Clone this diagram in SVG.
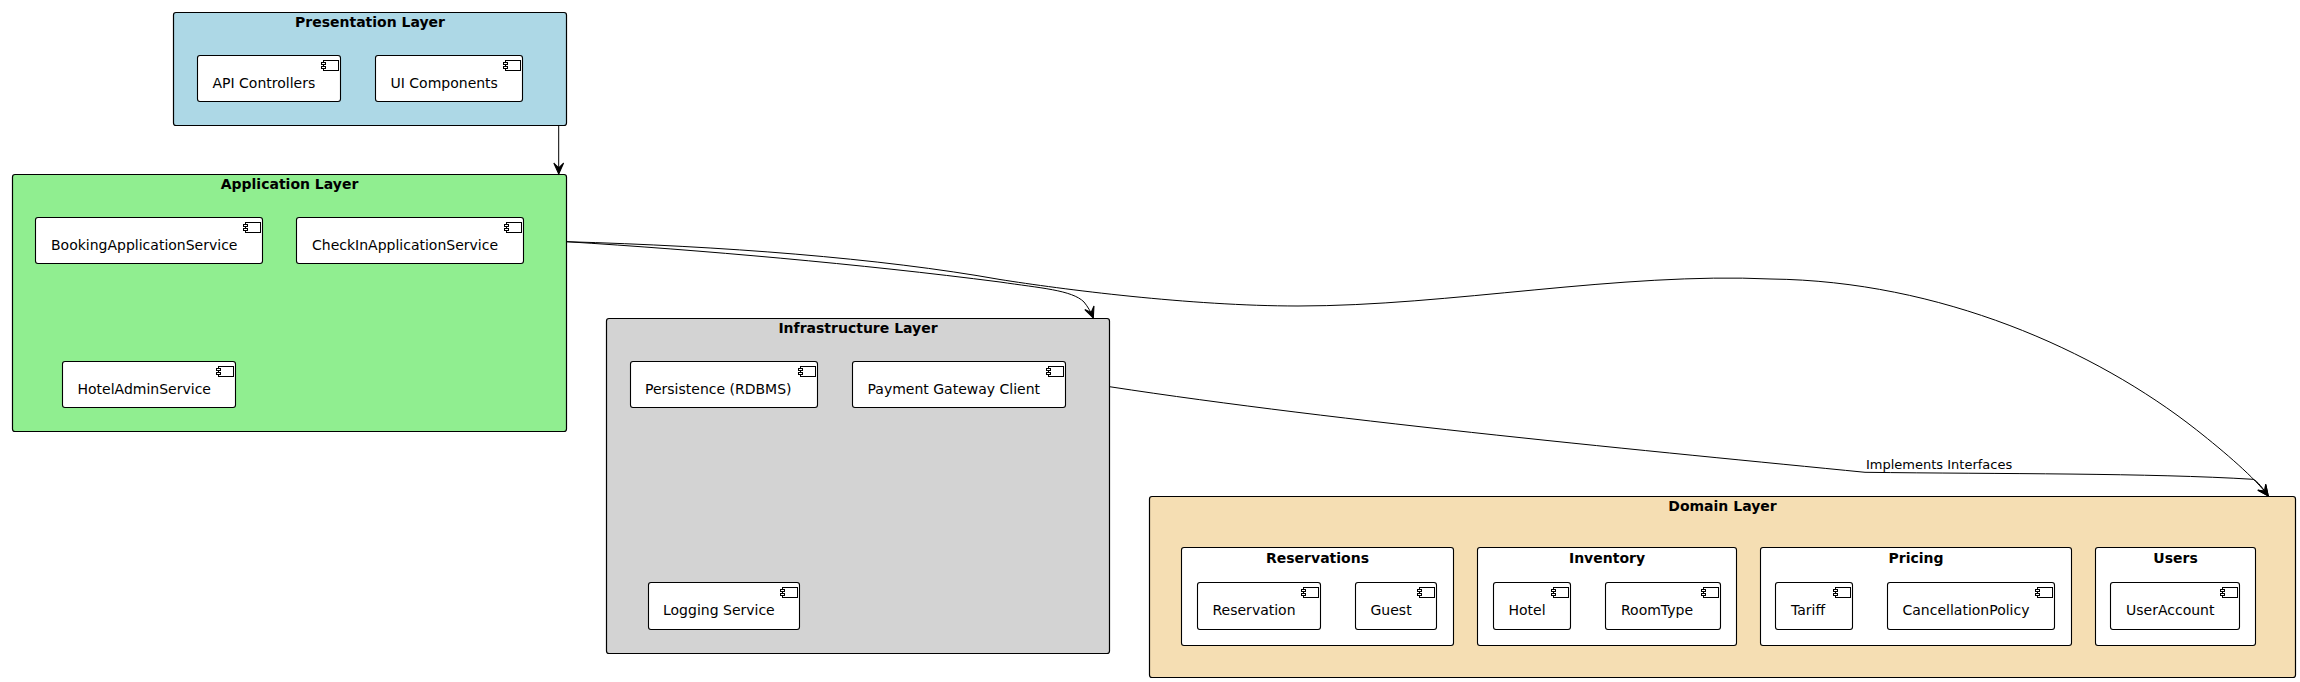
<svg xmlns="http://www.w3.org/2000/svg" xmlns:xlink="http://www.w3.org/1999/xlink" width="2300" height="682" viewBox="0 0 2300 682">
<style>
text{font-family:"DejaVu Sans",sans-serif;fill:#000}
.title{font-size:14px;font-weight:bold;text-anchor:middle}
.lbl{font-size:14px}
.edge-label{font-size:13px}
.box{stroke:#000;stroke-width:1.1;fill:#fff}
.layer{stroke:#000;stroke-width:1.2}
.comp{stroke:#000;stroke-width:1;fill:#fff}
.edge{fill:none;stroke:#000;stroke-width:1}
</style>
<defs>
<marker id="arrow" markerUnits="userSpaceOnUse" markerWidth="14" markerHeight="12" refX="11" refY="5.5" orient="auto" viewBox="0 0 12 11"><path d="M11,5.5 L1,1 L5.5,5.5 L1,10 Z" fill="#000" stroke="#000" stroke-width="1"/></marker>
<g id="icon"><rect x="-17" y="5" width="15" height="10" class="comp"/><rect x="-19" y="7" width="4" height="2" class="comp"/><rect x="-19" y="11" width="4" height="2" class="comp"/></g>
</defs>
<g id="layer-presentation">
<rect x="173.5" y="12.5" width="393" height="113" rx="2.5" fill="#ADD8E6" class="layer"/>
<text class="title" x="370" y="27">Presentation Layer</text>
<g id="api-controllers"><rect x="197.5" y="55.5" width="143" height="46" rx="2.5" class="box"/><use href="#icon" x="340.5" y="55.5"/><text class="lbl" x="212.5" y="88">API Controllers</text></g>
<g id="ui-components"><rect x="375.5" y="55.5" width="147" height="46" rx="2.5" class="box"/><use href="#icon" x="522.5" y="55.5"/><text class="lbl" x="390.5" y="88">UI Components</text></g>
</g>
<g id="layer-application">
<rect x="12.5" y="174.5" width="554" height="257" rx="2.5" fill="#90EE90" class="layer"/>
<text class="title" x="289.5" y="189">Application Layer</text>
<g id="booking-service"><rect x="35.5" y="217.5" width="227" height="46" rx="2.5" class="box"/><use href="#icon" x="262.5" y="217.5"/><text class="lbl" x="51" y="250">BookingApplicationService</text></g>
<g id="checkin-service"><rect x="296.5" y="217.5" width="227" height="46" rx="2.5" class="box"/><use href="#icon" x="523.5" y="217.5"/><text class="lbl" x="312" y="250">CheckInApplicationService</text></g>
<g id="hoteladmin-service"><rect x="62.5" y="361.5" width="173" height="46" rx="2.5" class="box"/><use href="#icon" x="235.5" y="361.5"/><text class="lbl" x="77.5" y="394">HotelAdminService</text></g>
</g>
<g id="layer-infrastructure">
<rect x="606.5" y="318.5" width="503" height="335" rx="2.5" fill="#D3D3D3" class="layer"/>
<text class="title" x="858" y="333">Infrastructure Layer</text>
<g id="persistence"><rect x="630.5" y="361.5" width="187" height="46" rx="2.5" class="box"/><use href="#icon" x="817.5" y="361.5"/><text class="lbl" x="645" y="394">Persistence (RDBMS)</text></g>
<g id="payment-gateway"><rect x="852.5" y="361.5" width="213" height="46" rx="2.5" class="box"/><use href="#icon" x="1065.5" y="361.5"/><text class="lbl" x="867.5" y="394">Payment Gateway Client</text></g>
<g id="logging-service"><rect x="648.5" y="582.5" width="151" height="47" rx="2.5" class="box"/><use href="#icon" x="799.5" y="582.5"/><text class="lbl" x="663" y="615">Logging Service</text></g>
</g>
<g id="layer-domain">
<rect x="1149.5" y="496.5" width="1146" height="181" rx="2.5" fill="#F5DEB3" class="layer"/>
<text class="title" x="1722.5" y="511">Domain Layer</text>
<g id="pkg-reservations">
<rect x="1181.5" y="547.5" width="272" height="98" rx="2.5" class="box"/><text class="title" x="1317.5" y="563">Reservations</text>
<g id="reservation"><rect x="1197.5" y="582.5" width="123" height="47" rx="2.5" class="box"/><use href="#icon" x="1320.5" y="582.5"/><text class="lbl" x="1212.5" y="615">Reservation</text></g>
<g id="guest"><rect x="1355.5" y="582.5" width="81" height="47" rx="2.5" class="box"/><use href="#icon" x="1436.5" y="582.5"/><text class="lbl" x="1370.5" y="615">Guest</text></g>
</g>
<g id="pkg-inventory">
<rect x="1477.5" y="547.5" width="259" height="98" rx="2.5" class="box"/><text class="title" x="1607" y="563">Inventory</text>
<g id="hotel"><rect x="1493.5" y="582.5" width="77" height="47" rx="2.5" class="box"/><use href="#icon" x="1570.5" y="582.5"/><text class="lbl" x="1508.5" y="615">Hotel</text></g>
<g id="roomtype"><rect x="1605.5" y="582.5" width="115" height="47" rx="2.5" class="box"/><use href="#icon" x="1720.5" y="582.5"/><text class="lbl" x="1621" y="615">RoomType</text></g>
</g>
<g id="pkg-pricing">
<rect x="1760.5" y="547.5" width="311" height="98" rx="2.5" class="box"/><text class="title" x="1916" y="563">Pricing</text>
<g id="tariff"><rect x="1775.5" y="582.5" width="77" height="47" rx="2.5" class="box"/><use href="#icon" x="1852.5" y="582.5"/><text class="lbl" x="1791" y="615">Tariff</text></g>
<g id="cancellation-policy"><rect x="1887.5" y="582.5" width="167" height="47" rx="2.5" class="box"/><use href="#icon" x="2054.5" y="582.5"/><text class="lbl" x="1902.5" y="615">CancellationPolicy</text></g>
</g>
<g id="pkg-users">
<rect x="2095.5" y="547.5" width="160" height="98" rx="2.5" class="box"/><text class="title" x="2175.5" y="563">Users</text>
<g id="useraccount"><rect x="2110.5" y="582.5" width="129" height="47" rx="2.5" class="box"/><use href="#icon" x="2239.5" y="582.5"/><text class="lbl" x="2126" y="615">UserAccount</text></g>
</g>
</g>
<g id="connectors">
<path class="edge" marker-end="url(#arrow)" d="M558.7,126 L558.7,174"/>
<path class="edge" marker-end="url(#arrow)" d="M566.5,241.7 C700,250 860,264 1000,282 C1040,288 1072,290 1084,302 C1088,307 1091,312 1093.3,318"/>
<path class="edge" marker-end="url(#arrow)" d="M566.5,241.7 C720,246 880,258 1000,279.5 C1060,289 1190,306 1298,306 C1450,306 1620,272 1771,279 C1940,281 2095,350 2196.7,430 C2225,452.4 2255,478 2268.3,496"/>
<path class="edge" marker-end="url(#arrow)" d="M1109.5,386.7 C1340,422 1660,452 1865,472.3 C2000,474 2150,473 2253,479.3 C2258,481 2263,489 2268.3,496"/>
<text class="edge-label" x="1866" y="469">Implements Interfaces</text>
</g>
</svg>
